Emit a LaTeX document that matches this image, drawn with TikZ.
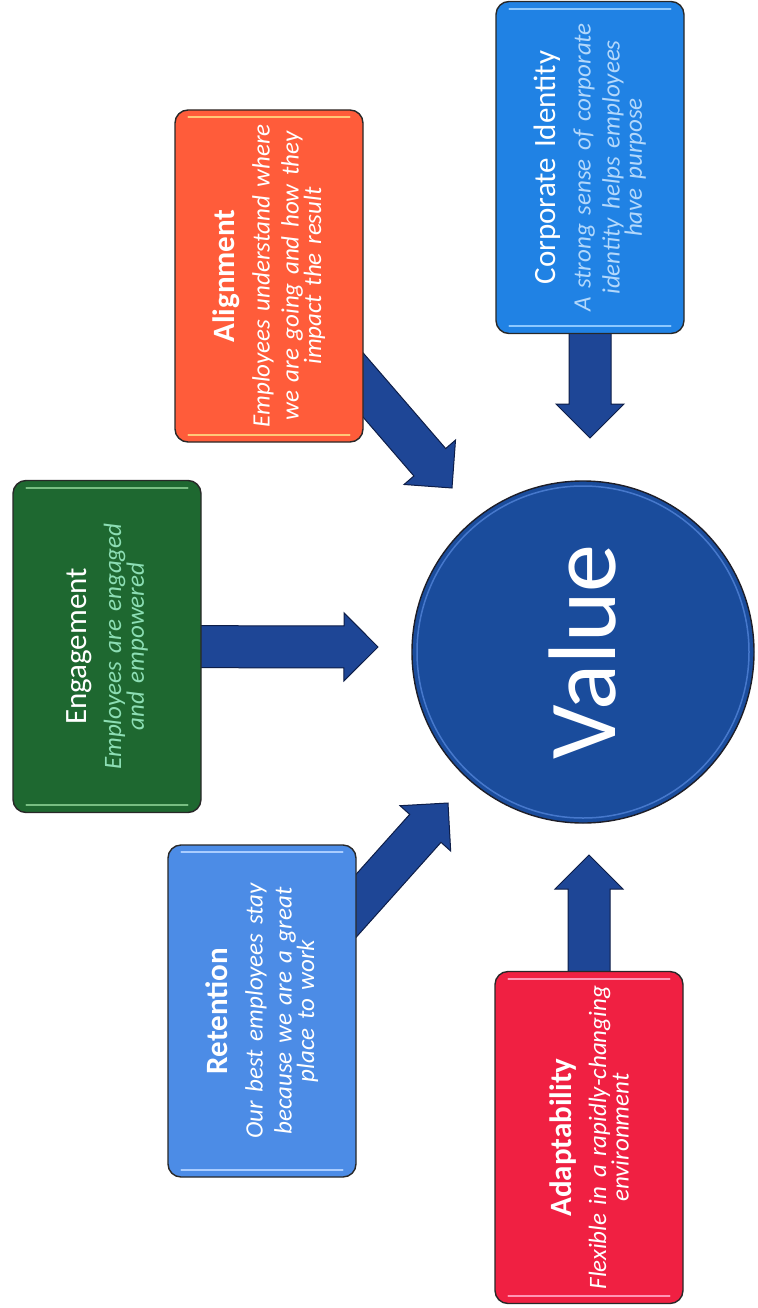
\documentclass[tikz,border=0pt]{standalone}
\usepackage{fontspec}
\setmainfont{Carlito}
\usetikzlibrary{calc}
\pgfdeclarelayer{bg}
\pgfsetlayers{bg,main}
\definecolor{engc}{RGB}{30,104,48}
\definecolor{alic}{RGB}{255,92,58}
\definecolor{corc}{RGB}{32,130,228}
\definecolor{retc}{RGB}{76,140,230}
\definecolor{adac}{RGB}{240,32,66}
\definecolor{valc}{RGB}{26,76,156}
\definecolor{arrc}{RGB}{30,70,150}
\definecolor{arre}{RGB}{14,30,72}
\definecolor{engt}{RGB}{140,222,180}
\definecolor{cort}{RGB}{178,216,252}
\definecolor{edgec}{RGB}{40,40,40}
\definecolor{valedge}{RGB}{30,30,40}
\definecolor{valring}{RGB}{90,140,225}
\definecolor{engh}{RGB}{120,190,130}
\definecolor{alih}{RGB}{255,200,120}
\definecolor{corh}{RGB}{140,200,255}
\definecolor{reth}{RGB}{170,205,255}
\definecolor{adah}{RGB}{255,150,180}
\newcommand\titlef{\fontsize{31}{36}\selectfont\spaceskip=0.32em\relax}
\newcommand\bodyf{\fontsize{25}{29}\selectfont\itshape\spaceskip=0.34em\relax}
\newcommand\fatarrow[2]{%
  \coordinate (ah) at ($(#2)!34pt!(#1)$);
  \filldraw[fatarr] ($(#1)!21pt!90:(#2)$) -- ($(ah)!21pt!90:(#2)$)
    -- ($(ah)!34pt!90:(#2)$) -- (#2) -- ($(ah)!34pt!-90:(#2)$)
    -- ($(ah)!21pt!-90:(#2)$) -- ($(#1)!21pt!-90:(#2)$) -- cycle;}
\tikzset{
  card/.style={draw=edgec, line width=1.4pt, rounded corners=13pt,
    rotate=90, minimum width=332pt, minimum height=188pt, text width=320pt,
    align=center, text=white, inner sep=0pt},
  fatarr/.style={fill=arrc, draw=arre, line width=1pt, line join=miter},
  shine/.style={line width=1.8pt, line cap=round},
}
\begin{document}
\begin{tikzpicture}[x=1pt,y=-1pt]
\useasboundingbox (0,0) rectangle (757,1308);
% centre
\node[circle, fill=valc, draw=valedge, line width=1.4pt, minimum size=342pt,
  inner sep=0pt] (val) at (583,652) {};
\draw[valring, line width=1.5pt, opacity=0.7] (val.center) circle[radius=166pt];
\node[rotate=90, text=white, font=\fontsize{96}{110}\selectfont] (valt) at (583,652) {Value};
% cards
\node[card, fill=engc] (eng) at (107,646.5)
  {{\titlef Engagement}\\[6pt]{\bodyf\color{engt}Employees are engaged\\ and empowered}};
\node[card, fill=alic] (ali) at (269,276)
  {{\titlef\bfseries Alignment}\\[6pt]{\bodyf Employees understand where\\ we are going and how they\\ impact the result}};
\node[card, fill=corc] (cor) at (590,167.5)
  {{\titlef Corporate Identity}\\[6pt]{\bodyf\color{cort}A strong sense of corporate\\ identity helps employees\\ have purpose}};
\node[card, fill=retc] (ret) at (262,1011)
  {{\titlef\bfseries Retention}\\[6pt]{\bodyf Our best employees stay\\ because we are a great\\ place to work}};
\node[card, fill=adac] (ada) at (589,1137.5)
  {{\titlef\bfseries Adaptability}\\[6pt]{\bodyf Flexible in a rapidly-changing\\ environment}};
% glossy edges
\foreach \b/\c in {eng/engh,ali/alih,cor/corh,ret/reth,ada/adah}{
  \draw[shine, draw=\c] ($(\b.north east)+(14,8)$) -- ($(\b.south east)+(-14,8)$);
  \draw[shine, draw=\c] ($(\b.north west)+(14,-8)$) -- ($(\b.south west)+(-14,-8)$);
}
% tips
\coordinate (engT) at (378,647);
\coordinate (aliT) at (452,488);
\coordinate (corT) at (590,438);
\coordinate (retT) at (448,803);
\coordinate (adaT) at (589,855);
\begin{pgfonlayer}{bg}
\fatarrow{eng.center}{engT}
\fatarrow{ali.center}{aliT}
\fatarrow{cor.center}{corT}
\fatarrow{ret.center}{retT}
\fatarrow{ada.center}{adaT}
\end{pgfonlayer}
\end{tikzpicture}
\end{document}
